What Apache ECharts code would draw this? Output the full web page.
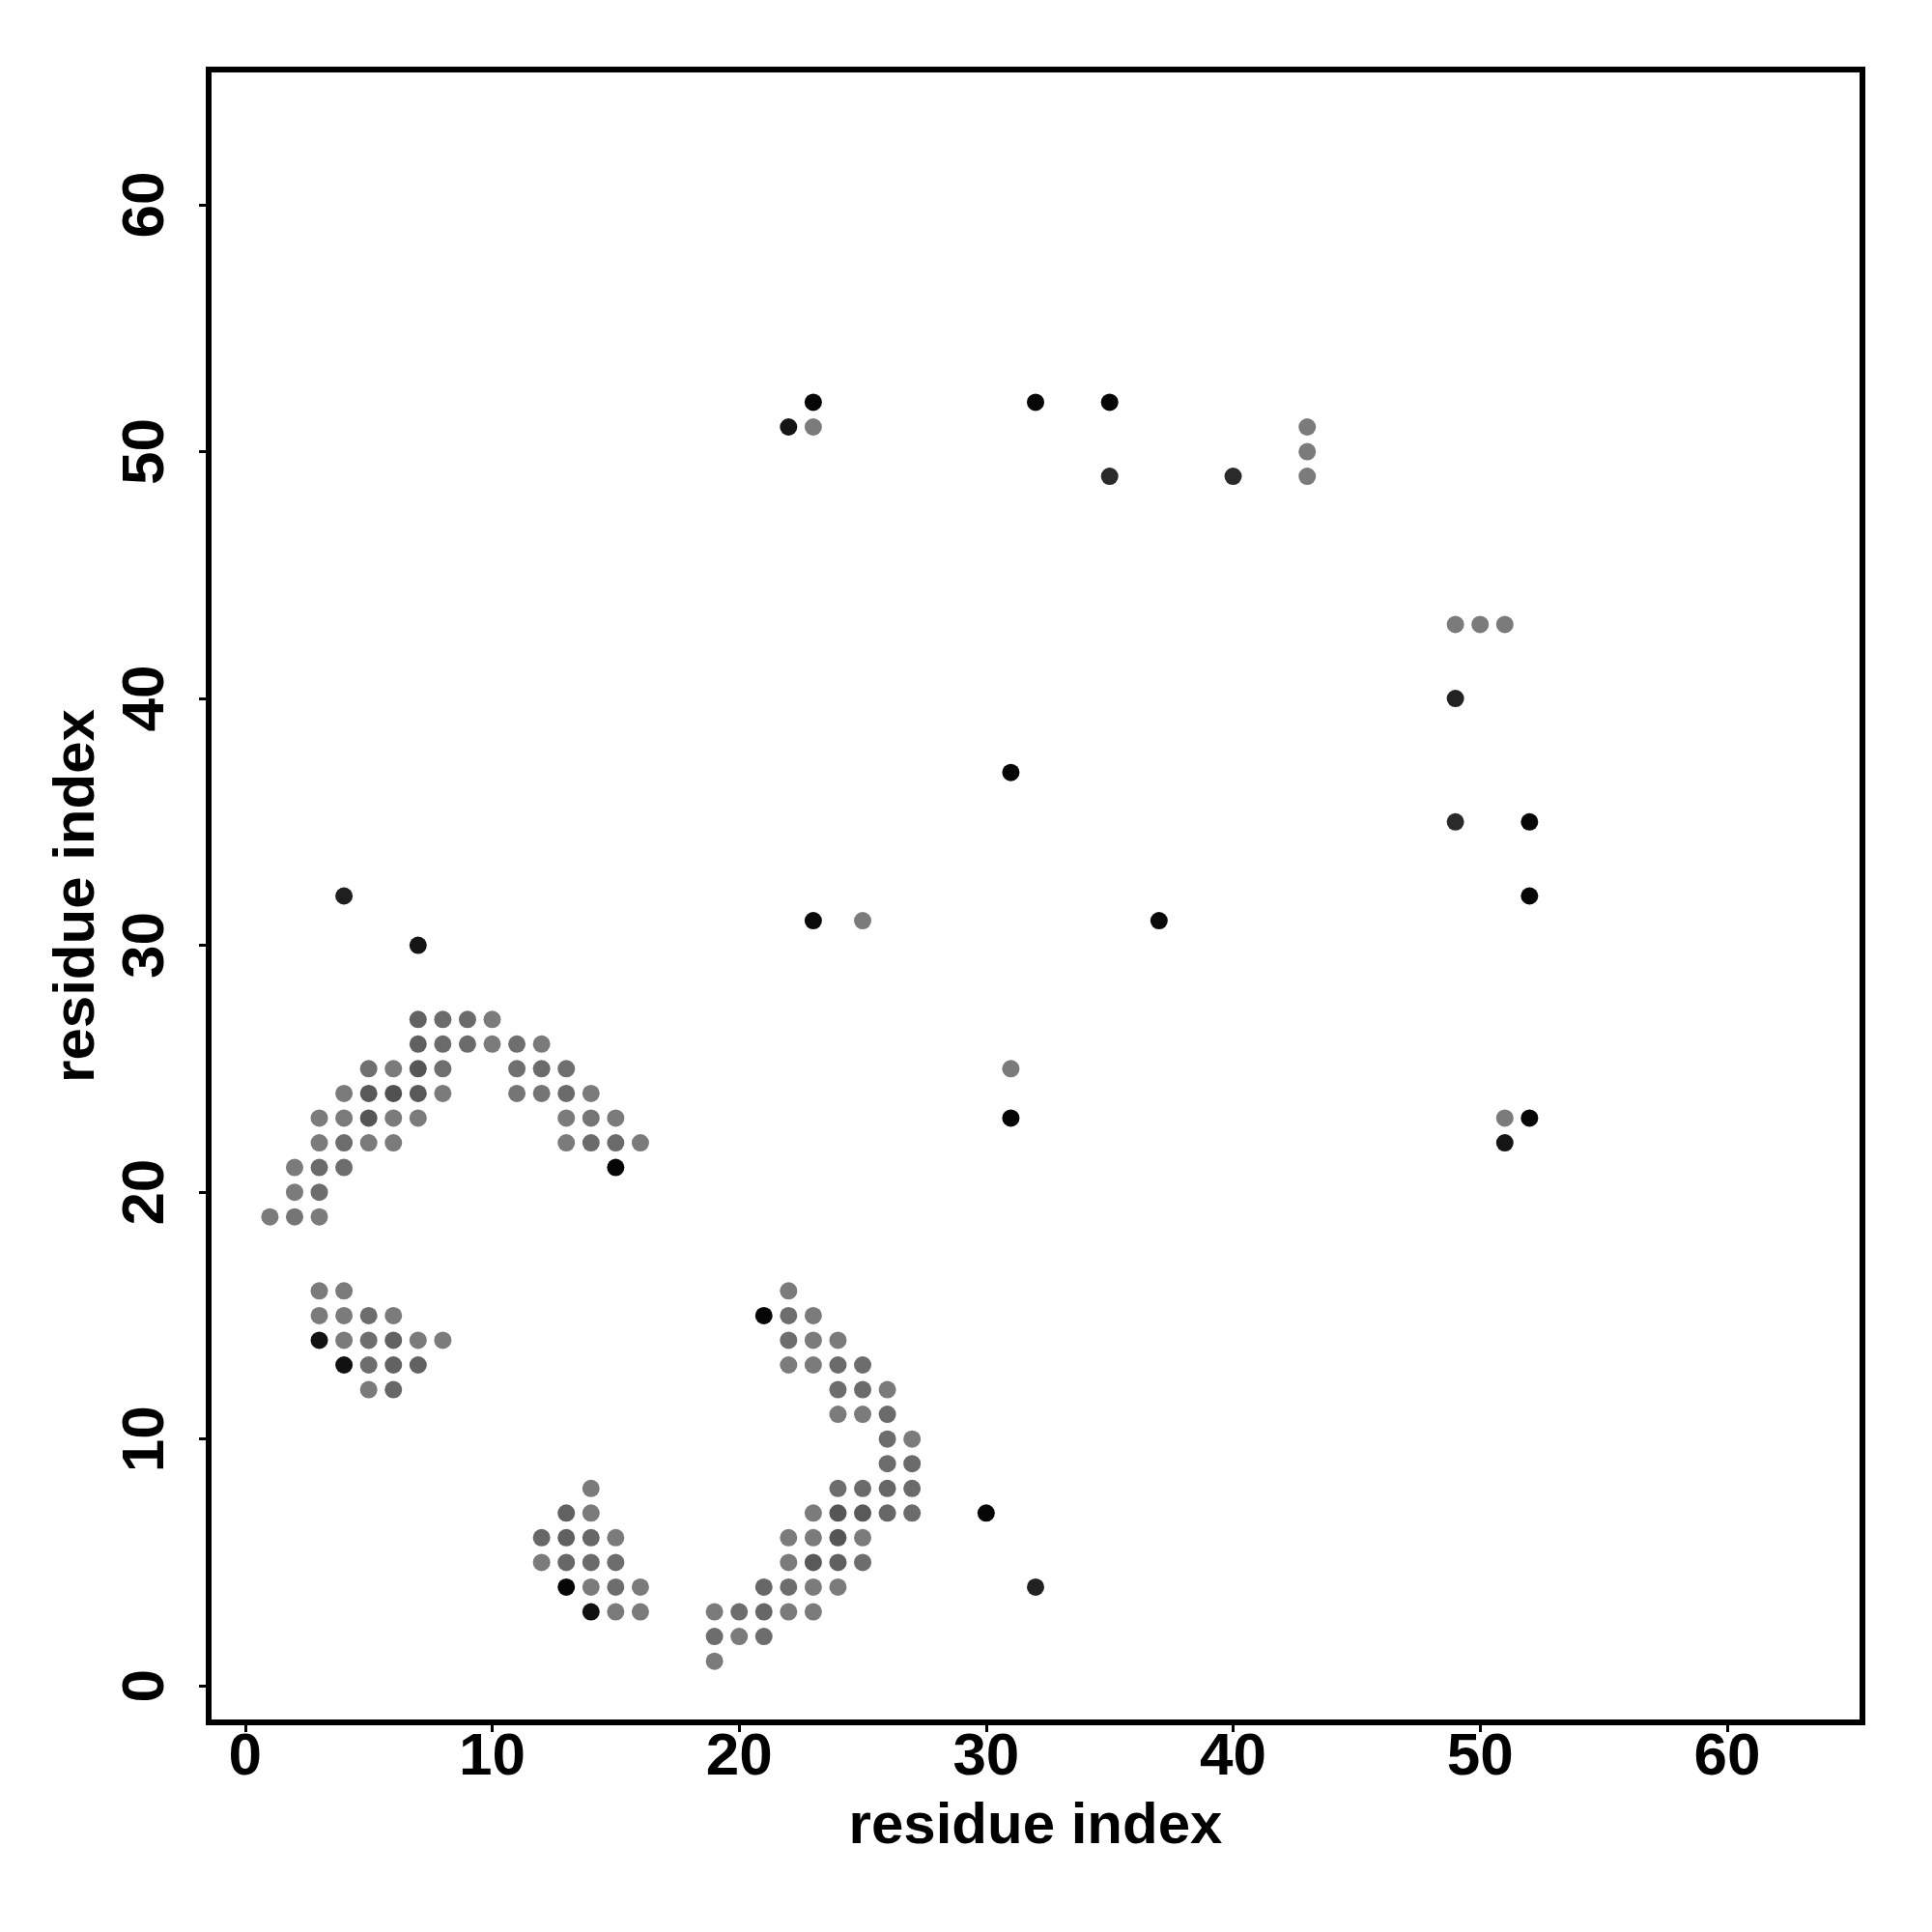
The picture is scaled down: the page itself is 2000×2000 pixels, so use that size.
<!DOCTYPE html>
<html>
<head>
<meta charset="utf-8">
<script src="https://cdn.jsdelivr.net/npm/echarts@6/dist/echarts.min.js"></script>
<style>
html,body{margin:0;padding:0;background:#fff;}
#chart{width:2000px;height:2000px;}
</style>
</head>
<body>
<div id="chart"></div>
<script>
// residue i (x), residue j (y), contact level (0 = light gray ... 1 = black)
const resX = [
  7,8,9,10,
  7,8,9,10,11,12,
  5,6,7,8,11,12,13,
  4,5,6,7,8,11,12,13,14,
  3,4,5,6,7,13,14,15,
  3,4,5,6,13,14,15,16,
  2,3,4,15,
  2,3,
  1,2,3,
  3,4,
  3,4,5,6,
  3,4,5,6,7,8,
  4,5,6,7,
  5,6,
  14,
  13,14,
  12,13,14,15,
  12,13,14,15,
  13,14,15,16,
  14,15,16,
  22,
  21,22,23,
  22,23,24,
  22,23,24,25,
  24,25,26,
  24,25,26,
  26,27,
  26,27,
  24,25,26,27,
  23,24,25,26,27,
  22,23,24,25,
  22,23,24,25,
  21,22,23,24,
  19,20,21,22,23,
  19,20,21,
  19,
  30,32,4,7,23,25,37,31,31,31,
  22,23,23,32,35,35,40,43,43,43,
  49,50,51,49,49,52,52,51,52,51
];
const resY = [
  27,27,27,27,
  26,26,26,26,26,26,
  25,25,25,25,25,25,25,
  24,24,24,24,24,24,24,24,24,
  23,23,23,23,23,23,23,23,
  22,22,22,22,22,22,22,22,
  21,21,21,21,
  20,20,
  19,19,19,
  16,16,
  15,15,15,15,
  14,14,14,14,14,14,
  13,13,13,13,
  12,12,
  8,
  7,7,
  6,6,6,6,
  5,5,5,5,
  4,4,4,4,
  3,3,3,
  16,
  15,15,15,
  14,14,14,
  13,13,13,13,
  12,12,12,
  11,11,11,
  10,10,
  9,9,
  8,8,8,8,
  7,7,7,7,7,
  6,6,6,6,
  5,5,5,5,
  4,4,4,4,
  3,3,3,3,3,
  2,2,2,
  1,
  7,4,32,30,31,31,31,37,25,23,
  51,52,51,52,52,49,49,51,50,49,
  43,43,43,40,35,35,32,23,23,22
];
const level = [
  .2,.13,.13,0,
  .22,.13,.13,0,.1,0,
  .1,0,.3,.1,.1,.13,.1,
  0,.28,.34,.28,0,.05,.05,.13,0,
  0,0,.3,0,0,0,.05,0,
  0,.11,0,0,0,.13,.13,0,
  0,.13,.11,.95,
  0,.11,
  0,.05,0,
  0,0,
  0,0,.11,0,
  .86,0,.11,.2,0,0,
  .86,.11,.2,.2,
  0,.16,
  0,
  .2,0,
  .16,.22,.16,0,
  0,.16,.13,.11,
  .95,0,.11,0,
  .86,0,0,
  0,
  .95,.11,0,
  .11,0,0,
  0,0,.13,.11,
  .11,.13,0,
  0,0,.13,
  .11,0,
  .11,.13,
  .11,.13,.16,.13,
  0,.3,.28,.16,.13,
  0,0,.3,0,
  0,.28,.22,.11,
  .16,.11,0,0,
  0,.11,.16,0,0,
  .11,0,.11,
  0,
  .95,.72,.75,.83,.92,0,.92,.95,0,.95,
  .83,.95,0,.95,.95,.66,.66,0,0,0,
  0,0,0,.72,.66,.95,.95,0,.95,.83
];
const tickVals = [0, 10, 20, 30, 40, 50, 60];
const axisMin = -1.48, axisMax = 65.48;
const axisTitle = 'residue index';

const points = resX.map((x, i) => [x, resY[i], level[i]]);

const fontFam = '"Liberation Sans", Arial, Helvetica, sans-serif';
function makeAxis(isY) {
  return {
    type: 'value',
    min: axisMin,
    max: axisMax,
    name: axisTitle,
    nameLocation: 'middle',
    nameGap: isY ? 106 : 78,
    nameRotate: isY ? 90 : 0,
    nameTextStyle: {fontFamily: fontFam, fontWeight: 'bold', fontSize: 60, color: '#000'},
    axisLine: {show: false, onZero: false},
    splitLine: {show: false},
    axisTick: {show: true, length: 10, inside: false, customValues: tickVals,
               lineStyle: {color: '#000', width: 3}},
    axisLabel: {show: true, customValues: tickVals, margin: isY ? 33 : 6,
                rotate: isY ? 90 : 0,
                fontFamily: fontFam, fontWeight: 'bold', fontSize: 62, color: '#000'}
  };
}

const chart = echarts.init(document.getElementById('chart'), null, {renderer: 'canvas'});
chart.setOption({
  backgroundColor: '#fff',
  animation: false,
  grid: {left: 216, right: 72, top: 72, bottom: 217, show: true,
         borderColor: '#000', borderWidth: 6, backgroundColor: 'transparent'},
  xAxis: makeAxis(false),
  yAxis: makeAxis(true),
  visualMap: {show: false, type: 'continuous', dimension: 2, min: 0, max: 1,
              inRange: {color: ['#7b7b7b', '#000000']}},
  series: [{
    type: 'scatter',
    data: points,
    symbol: 'circle',
    symbolSize: 18,
    itemStyle: {opacity: 1}
  }]
});
</script>
</body>
</html>
